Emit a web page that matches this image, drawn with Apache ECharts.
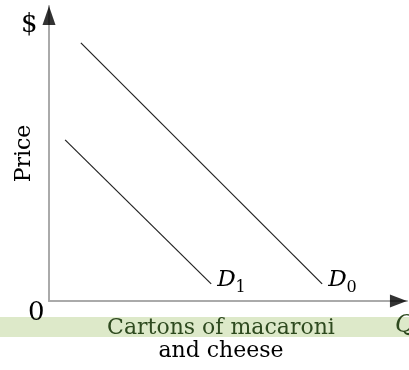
<!DOCTYPE html>
<html>
<head>
<meta charset="utf-8">
<script src="https://cdn.jsdelivr.net/npm/echarts@6/dist/echarts.min.js"></script>
<style>html,body{margin:0;padding:0;background:#fff}#c{width:409px;height:370px}</style>
</head>
<body>
<div id="c"></div>
<script>
// Data (axis units 0..10)
const d0Points = [[0.89, 8.75], [7.63, 0.58]];
const d1Points = [[0.45, 5.46], [4.53, 0.58]];
const curveNames = ['D0', 'D1'];
const xTitle = ['Cartons of macaroni', 'and cheese'];
const yTitle = 'Price';

const serif = '"DejaVu Serif", serif';
const chart = echarts.init(document.getElementById('c'));

function dLabel(sub) {
  return {
    show: true,
    formatter: '{d|D}{s|' + sub + '}',
    distance: 6,
    offset: [0, -4],
    rich: {
      d: { fontFamily: serif, fontStyle: 'italic', fontSize: 23, color: '#000' },
      s: { fontFamily: serif, fontSize: 16, color: '#000', padding: [15, 0, 0, 0] }
    }
  };
}

chart.setOption({
  animation: false,
  grid: { left: 49, top: 6, right: 2, bottom: 69 },
  xAxis: {
    type: 'value', min: 0, max: 10,
    axisLine: { show: true, onZero: false, lineStyle: { color: '#aaaaaa', width: 2 } },
    axisTick: { show: false }, axisLabel: { show: false }, splitLine: { show: false },
    name: '{a|' + xTitle[0] + '}\n{b|' + xTitle[1] + '}',
    nameLocation: 'middle', nameGap: 16,
    nameTextStyle: {
      padding: [0, 14, 0, 0],
      rich: {
        a: { fontFamily: serif, fontSize: 22, color: '#2e4a1f', lineHeight: 23 },
        b: { fontFamily: serif, fontSize: 22, color: '#000', lineHeight: 23 }
      }
    }
  },
  yAxis: {
    type: 'value', min: 0, max: 10,
    axisLine: { show: true, onZero: false, lineStyle: { color: '#aaaaaa', width: 2 } },
    axisTick: { show: false }, axisLabel: { show: false }, splitLine: { show: false },
    name: yTitle, nameLocation: 'middle', nameGap: 14,
    nameTextStyle: { fontFamily: serif, fontSize: 22, color: '#000' }
  },
  graphic: [
    { type: 'rect', z: -10, shape: { x: 0, y: 317, width: 409, height: 20 }, style: { fill: '#dde9c9' } },
    { type: 'text', left: 28, top: 300, style: { text: '0', fontFamily: serif, fontSize: 26, fill: '#000' } },
    { type: 'text', left: 21, top: 12, style: { text: '$', fontFamily: serif, fontSize: 26, fill: '#000' } },
    { type: 'text', left: 395, top: 314, style: { text: 'Q', fontFamily: serif, fontStyle: 'italic', fontSize: 24, fill: '#2e4a1f' } }
  ],
  series: [
    {
      name: curveNames[0], type: 'line', data: d0Points, symbol: 'none',
      lineStyle: { color: '#222', width: 1.2 },
      endLabel: dLabel('0')
    },
    {
      name: curveNames[1], type: 'line', data: d1Points, symbol: 'none',
      lineStyle: { color: '#222', width: 1.2 },
      endLabel: dLabel('1')
    },
    {
      type: 'scatter', data: [[0, 9.68]], symbol: 'triangle', symbolSize: [13, 19],
      itemStyle: { color: '#000' }, silent: true
    },
    {
      type: 'scatter', data: [[9.76, 0]], symbol: 'triangle', symbolSize: [13, 17], symbolRotate: -90,
      itemStyle: { color: '#000' }, silent: true
    }
  ]
});
</script>
</body>
</html>
